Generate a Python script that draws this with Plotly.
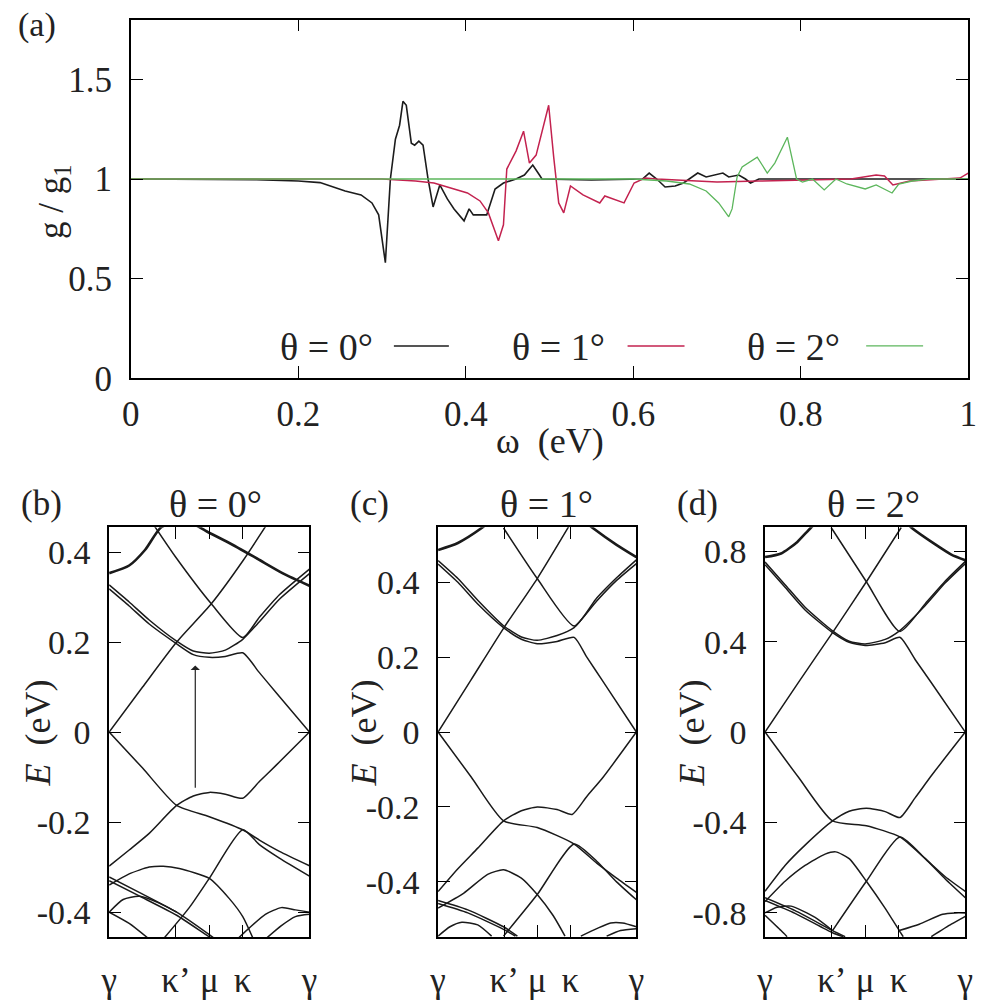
import plotly.graph_objects as go

W, H = 992, 1000
FONT = "Liberation Serif"

# ---------------- panel (a) data ----------------
OMEGA_0 = [0, 0.10, 0.15, 0.20, 0.226, 0.256, 0.275, 0.288, 0.296, 0.304, 0.310, 0.316, 0.321, 0.325,
           0.329, 0.335, 0.339, 0.344, 0.349, 0.355, 0.361, 0.369, 0.378, 0.386, 0.398, 0.404, 0.409,
           0.425, 0.435, 0.445, 0.460, 0.470, 0.480, 0.488, 0.491, 0.55, 0.60, 0.611, 0.619, 0.628,
           0.638, 0.650, 0.660, 0.677, 0.687, 0.707, 0.714, 0.726, 0.734, 0.740, 0.75, 0.80, 0.85,
           0.90, 0.95, 1.0]
G_0 = [1.0, 1.0, 0.997, 0.99, 0.982, 0.94, 0.92, 0.88, 0.82, 0.58, 1.0, 1.2, 1.27, 1.39,
       1.37, 1.18, 1.17, 1.19, 1.17, 1.0, 0.86, 0.97, 0.90, 0.85, 0.79, 0.85, 0.82,
       0.82, 0.95, 0.98, 1.0, 1.02, 1.07, 1.02, 1.0, 0.995, 1.0, 1.0, 1.03, 1.0,
       0.96, 0.965, 0.98, 1.03, 1.01, 1.03, 1.01, 1.02, 1.0, 0.98, 1.0, 1.0, 1.0,
       1.0, 1.0, 1.0]

OMEGA_1 = [0, 0.30, 0.34, 0.362, 0.382, 0.402, 0.417, 0.427, 0.439, 0.445, 0.449, 0.453, 0.460,
           0.469, 0.476, 0.484, 0.491, 0.499, 0.505, 0.511, 0.517, 0.525, 0.540, 0.560, 0.566,
           0.589, 0.601, 0.614, 0.628, 0.65, 0.70, 0.75, 0.80, 0.86, 0.89, 0.90, 0.91, 0.93,
           0.97, 0.99, 1.0]
G_1 = [1.0, 1.0, 0.99, 0.98, 0.955, 0.93, 0.89, 0.83, 0.69, 0.77, 1.05, 1.08, 1.14,
       1.24, 1.08, 1.12, 1.23, 1.37, 1.11, 0.88, 0.83, 0.965, 0.92, 0.88, 0.915,
       0.88, 0.98, 1.005, 1.0, 0.995, 0.985, 0.99, 0.995, 1.0, 1.02, 1.015, 0.97, 0.99,
       1.0, 1.005, 1.03]

OMEGA_2 = [0, 0.60, 0.64, 0.667, 0.687, 0.702, 0.714, 0.718, 0.724, 0.730, 0.748, 0.760, 0.769,
           0.784, 0.795, 0.802, 0.814, 0.828, 0.842, 0.855, 0.877, 0.890, 0.909, 0.917, 0.933,
           0.953, 1.0]
G_2 = [1.0, 1.0, 0.99, 0.975, 0.94, 0.88, 0.81, 0.85, 1.01, 1.06, 1.11, 1.03, 1.08,
       1.21, 1.0, 0.985, 1.0, 0.945, 1.0, 0.975, 0.95, 0.97, 0.93, 0.975, 0.99,
       1.0, 1.0]

SERIES_NAMES = ["θ = 0°", "θ = 1°", "θ = 2°"]
SERIES_COLORS = ["#1c1c1c", "#c3224f", "#5cb65c"]
SERIES_WIDTHS = [1.6, 1.5, 1.3]

A_XTICKS = [0, 0.2, 0.4, 0.6, 0.8, 1.0]
A_XTICKTEXT = ["0", "0.2", "0.4", "0.6", "0.8", "1"]
A_YTICKS = [0, 0.5, 1.0, 1.5]
A_YTICKTEXT = ["0", "0.5", "1", "1.5"]

# ---------------- band structures (k along path, E in eV) ----------------
K_TICKS = [0, 1 / 3, 0.5, 2 / 3, 1]
K_LABELS = ["γ", "κ’", "μ", "κ", "γ"]

# bold upper band (drawn thicker), one per panel
TOP_BAND_B = ([0, 0.1, 0.18, 0.26, 0.38, 0.49, 0.6, 0.74, 0.87, 1],
              [0.353, 0.37, 0.405, 0.455, 0.47, 0.445, 0.42, 0.385, 0.352, 0.325])
TOP_BAND_C = ([0, 0.1, 0.22, 0.35, 0.5, 0.65, 0.78, 0.9, 1],
              [0.486, 0.505, 0.545, 0.6, 0.62, 0.6, 0.545, 0.5, 0.467])
TOP_BAND_D = ([0, 0.08, 0.16, 0.23, 0.35, 0.5, 0.62, 0.73, 0.85, 0.93, 1],
              [0.774, 0.79, 0.84, 0.905, 1.0, 1.05, 1.0, 0.905, 0.83, 0.785, 0.76])

BANDS_B = [
    ([0, 0.167, 0.337, 0.51, 0.667, 0.8], [0, 0.1, 0.2, 0.285, 0.38, 0.47]),
    ([0, 0.1, 0.2, 0.337, 0.42, 0.5, 0.58, 0.667, 0.75, 0.833, 1],
     [0.318, 0.28, 0.24, 0.196, 0.172, 0.166, 0.168, 0.176, 0.132, 0.088, 0]),
    ([0, 0.1, 0.2, 0.337, 0.42, 0.5, 0.58, 0.667, 0.75, 0.85, 1],
     [0.327, 0.289, 0.249, 0.202, 0.18, 0.175, 0.182, 0.206, 0.245, 0.295, 0.352]),
    ([0.2, 0.33, 0.51, 0.667, 0.75, 0.85, 1], [0.475, 0.39, 0.285, 0.21, 0.255, 0.305, 0.362]),
    ([0, 0.167, 0.337, 0.5, 0.667, 0.75, 0.85, 1],
     [0, -0.08, -0.163, -0.188, -0.217, -0.24, -0.265, -0.297]),
    ([0, 0.1, 0.2, 0.337, 0.42, 0.5, 0.58, 0.667, 0.75, 0.833, 1],
     [-0.298, -0.262, -0.225, -0.163, -0.142, -0.134, -0.138, -0.147, -0.11, -0.074, 0]),
    ([0.27, 0.4, 0.5, 0.667, 0.75, 0.85, 1], [-0.46, -0.39, -0.325, -0.217, -0.25, -0.28, -0.32]),
    ([0, 0.1, 0.2, 0.27, 0.35, 0.5, 0.6, 0.667, 0.72],
     [-0.34, -0.315, -0.30, -0.298, -0.303, -0.325, -0.37, -0.41, -0.46]),
    ([0, 0.15, 0.337, 0.5, 0.53], [-0.322, -0.356, -0.40, -0.45, -0.46]),
    ([0, 0.15, 0.337, 0.5, 0.52], [-0.33, -0.364, -0.407, -0.455, -0.46]),
    ([0, 0.07, 0.15, 0.25, 0.337], [-0.40, -0.372, -0.365, -0.38, -0.40]),
    ([0, 0.1, 0.2], [-0.40, -0.425, -0.46]),
    ([0.64, 0.7, 0.78, 0.86, 0.93, 1], [-0.46, -0.435, -0.405, -0.39, -0.395, -0.40]),
    ([0.78, 0.86, 0.93, 1], [-0.46, -0.43, -0.41, -0.405]),
]

BANDS_C = [
    ([0, 0.167, 0.33, 0.5, 0.66], [0, 0.14, 0.277, 0.41, 0.55]),
    ([0, 0.1, 0.2, 0.33, 0.42, 0.5, 0.6, 0.686, 0.75, 0.833, 1],
     [0.449, 0.4, 0.342, 0.279, 0.248, 0.236, 0.242, 0.253, 0.2, 0.134, 0]),
    ([0, 0.1, 0.2, 0.33, 0.42, 0.5, 0.6, 0.686, 0.8, 0.9, 1],
     [0.458, 0.41, 0.352, 0.284, 0.254, 0.245, 0.258, 0.279, 0.35, 0.405, 0.45]),
    ([0.33, 0.5, 0.686, 0.8, 0.9, 1], [0.545, 0.41, 0.283, 0.358, 0.412, 0.46]),
    ([0, 0.167, 0.33, 0.5, 0.686, 0.8, 0.9, 1],
     [0, -0.12, -0.237, -0.255, -0.299, -0.35, -0.39, -0.428]),
    ([0, 0.1, 0.2, 0.33, 0.42, 0.5, 0.6, 0.676, 0.75, 0.833, 1],
     [-0.426, -0.365, -0.31, -0.237, -0.21, -0.2, -0.207, -0.22, -0.172, -0.12, 0]),
    ([0.33, 0.5, 0.686, 0.8, 0.9, 1], [-0.545, -0.434, -0.299, -0.345, -0.4, -0.448]),
    ([0, 0.13, 0.25, 0.33, 0.42, 0.5, 0.58, 0.64],
     [-0.47, -0.43, -0.38, -0.368, -0.39, -0.434, -0.49, -0.545]),
    ([0, 0.15, 0.33, 0.4], [-0.45, -0.475, -0.52, -0.545]),
    ([0, 0.15, 0.33, 0.39], [-0.458, -0.483, -0.527, -0.545]),
    ([0, 0.06, 0.12, 0.2, 0.27], [-0.545, -0.52, -0.508, -0.515, -0.545]),
    ([0.72, 0.8, 0.87, 0.93, 1], [-0.545, -0.525, -0.51, -0.51, -0.52]),
    ([0.85, 0.92, 1], [-0.545, -0.53, -0.525]),
]

BANDS_D = [
    ([0, 0.167, 0.337, 0.506, 0.68], [0, 0.22, 0.44, 0.665, 0.905]),
    ([0, 0.1, 0.2, 0.337, 0.42, 0.5, 0.6, 0.673, 0.75, 0.833, 1],
     [0.74, 0.64, 0.54, 0.44, 0.397, 0.383, 0.395, 0.419, 0.32, 0.215, 0]),
    ([0, 0.1, 0.2, 0.337, 0.42, 0.5, 0.6, 0.673, 0.8, 0.9, 1],
     [0.752, 0.652, 0.552, 0.448, 0.402, 0.39, 0.41, 0.449, 0.56, 0.66, 0.745]),
    ([0.33, 0.506, 0.673, 0.8, 0.9, 1], [0.905, 0.665, 0.445, 0.568, 0.668, 0.755]),
    ([0, 0.167, 0.337, 0.506, 0.673, 0.8, 0.9, 1],
     [0, -0.2, -0.393, -0.414, -0.464, -0.56, -0.64, -0.705]),
    ([0, 0.1, 0.2, 0.337, 0.42, 0.506, 0.6, 0.673, 0.75, 0.833, 1],
     [-0.704, -0.59, -0.5, -0.393, -0.35, -0.337, -0.352, -0.378, -0.29, -0.19, 0]),
    ([0.337, 0.506, 0.673, 0.8, 0.9, 1], [-0.878, -0.66, -0.464, -0.56, -0.65, -0.733]),
    ([0, 0.1, 0.2, 0.3, 0.353, 0.42, 0.506, 0.6, 0.67, 0.69],
     [-0.75, -0.66, -0.59, -0.54, -0.53, -0.56, -0.66, -0.78, -0.878, -0.905]),
    ([0, 0.15, 0.337, 0.4], [-0.733, -0.79, -0.878, -0.905]),
    ([0, 0.15, 0.337, 0.39], [-0.745, -0.802, -0.888, -0.905]),
    ([0, 0.06, 0.13, 0.25, 0.337], [-0.8, -0.775, -0.77, -0.82, -0.878]),
    ([0, 0.08, 0.11], [-0.81, -0.878, -0.905]),
    ([0.67, 0.77, 0.887, 0.95, 1], [-0.878, -0.85, -0.806, -0.8, -0.8]),
    ([0.83, 0.93, 1], [-0.905, -0.85, -0.815]),
]

PANELS = [
    dict(bands=BANDS_B, top=TOP_BAND_B, rng=0.455, ticks=[-0.4, -0.2, 0, 0.2, 0.4],
         ticktext=["-0.4", "-0.2", "0", "0.2", "0.4"],
         x0=102, x1=306, title="θ = 0°", titlex=210, tag="(b)", tagx=33, ytx=30),
    dict(bands=BANDS_C, top=TOP_BAND_C, rng=0.547, ticks=[-0.4, -0.2, 0, 0.2, 0.4],
         ticktext=["-0.4", "-0.2", "0", "0.2", "0.4"],
         x0=437, x1=639, title="θ = 1°", titlex=547, tag="(c)", tagx=367, ytx=362),
    dict(bands=BANDS_D, top=TOP_BAND_D, rng=0.906, ticks=[-0.8, -0.4, 0, 0.4, 0.8],
         ticktext=["-0.8", "-0.4", "0", "0.4", "0.8"],
         x0=770, x1=974, title="θ = 2°", titlex=880, tag="(d)", tagx=701, ytx=696),
]

# arrow in panel (b): k position, start E, end E
ARROW_K = 0.43
ARROW_E = (-0.127, 0.148)

def px(x):
    return x / W

def py(y):
    return 1 - y / H

fig = go.Figure()

for xs, ys, nm, col, lw in zip([OMEGA_0, OMEGA_1, OMEGA_2], [G_0, G_1, G_2],
                               SERIES_NAMES, SERIES_COLORS, SERIES_WIDTHS):
    fig.add_trace(go.Scatter(x=xs, y=ys, mode="lines", name=nm, showlegend=False,
                             line=dict(color=col, width=lw), xaxis="x", yaxis="y"))

for i, p in enumerate(PANELS):
    ax = str(i + 2)
    for ks, es in p["bands"]:
        fig.add_trace(go.Scatter(x=ks, y=es, mode="lines", showlegend=False, hoverinfo="skip",
                                 line=dict(color="#1a1a1a", width=1.5, shape="spline", smoothing=0.6),
                                 xaxis="x" + ax, yaxis="y" + ax))
    ks, es = p["top"]
    fig.add_trace(go.Scatter(x=ks, y=es, mode="lines", showlegend=False, hoverinfo="skip",
                             line=dict(color="#1a1a1a", width=2.6, shape="spline", smoothing=0.6),
                             xaxis="x" + ax, yaxis="y" + ax))

TXT = "#222"

def axis_common(size):
    return dict(showgrid=False, zeroline=False, showline=True, linecolor="black", linewidth=1.6,
                ticks="inside", ticklen=12, tickwidth=1.4, tickcolor="black",
                tickfont=dict(family=FONT, size=size, color=TXT))

layout = dict(
    width=W, height=H, margin=dict(l=0, r=0, t=0, b=0),
    paper_bgcolor="white", plot_bgcolor="white", showlegend=False,
    font=dict(family=FONT, color=TXT),
    xaxis=dict(domain=[px(124), px(977)], range=[0, 1], tickvals=A_XTICKS, ticktext=A_XTICKTEXT,
               mirror="allticks", anchor="y", ticklabelstandoff=4, **axis_common(35)),
    yaxis=dict(domain=[py(386), py(20)], range=[0, 1.8], tickvals=A_YTICKS, ticktext=A_YTICKTEXT,
               mirror="allticks", anchor="x", ticklabelstandoff=10, **axis_common(35)),
)

for i, p in enumerate(PANELS):
    ax = str(i + 2)
    layout["xaxis" + ax] = dict(domain=[px(p["x0"]), px(p["x1"])], range=[0, 1], tickvals=K_TICKS,
                                ticktext=K_LABELS, mirror="allticks", anchor="y" + ax, ticklabelstandoff=11,
                                **axis_common(35))
    layout["yaxis" + ax] = dict(domain=[py(956), py(538)], range=[-p["rng"], p["rng"]],
                                tickvals=p["ticks"], ticktext=p["ticktext"], mirror="allticks",
                                anchor="x" + ax, ticklabelstandoff=10, **axis_common(34))

fig.update_layout(**layout)

ann = []
shapes = []

def txt(text, x, y, size, **kw):
    d = dict(text=text, x=px(x), y=py(y), xref="paper", yref="paper", showarrow=False,
             xanchor="center", yanchor="middle", font=dict(family=FONT, size=size, color=TXT))
    d.update(kw)
    return d

# panel (a) texts
ann.append(txt("(a)", 29, 26, 34))
ann.append(txt("g / g<sub>1</sub>", 46, 206, 35, textangle=-90))
ann.append(txt("ω\u00a0\u00a0(eV)", 551, 450, 36))
# legend (text left of sample line)
LEG_TEXT_RIGHT = [373, 609, 848]
LEG_LINE = [(392, 448), (630, 688), (873, 931)]
for nm, col, lw, tx, (l0, l1) in zip(SERIES_NAMES, SERIES_COLORS, SERIES_WIDTHS, LEG_TEXT_RIGHT, LEG_LINE):
    ann.append(txt(nm, tx, 354, 38, xanchor="right"))
    shapes.append(dict(type="line", x0=px(l0), x1=px(l1), y0=py(353), y1=py(353), xref="paper", yref="paper",
                       line=dict(color=col, width=lw)))

for i, p in enumerate(PANELS):
    ann.append(txt(p["tag"], p["tagx"], 514, 35))
    ann.append(txt(p["title"], p["titlex"], 514, 38))
    ann.append(txt("<i>E</i>\u00a0\u00a0(eV)", p["ytx"], 748, 36, textangle=-90))

ann.append(dict(x=ARROW_K, y=ARROW_E[1], ax=ARROW_K, ay=ARROW_E[0], xref="x2", yref="y2",
                axref="x2", ayref="y2", showarrow=True, arrowhead=1, arrowsize=1.3, arrowwidth=1.2,
                arrowcolor=TXT, text=""))

fig.update_layout(annotations=ann, shapes=shapes)
fig.write_html("out.html")
